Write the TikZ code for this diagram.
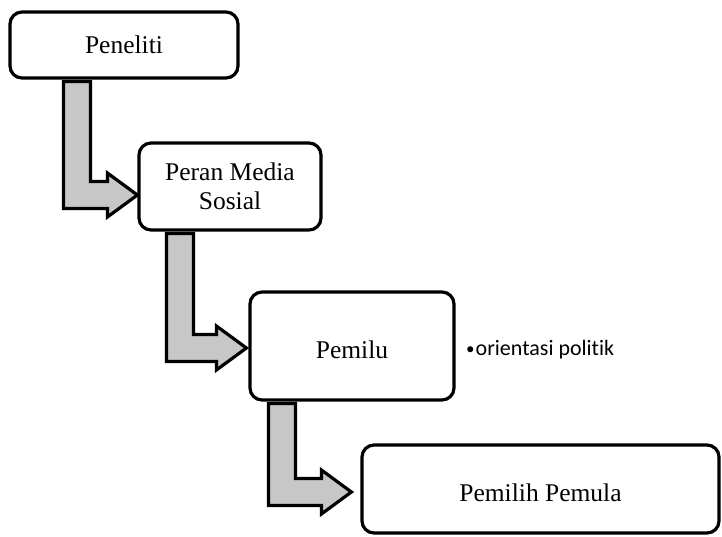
\documentclass[tikz,border=0pt]{standalone}
\usepackage{fontspec}
\setmainfont{Liberation Serif}
\newfontfamily\bulletfont[Ligatures=NoCommon]{Carlito}
\usetikzlibrary{calc}
\tikzset{
  boxnode/.style={draw=black, line width=3.2pt, rounded corners=12pt, fill=white,
    align=center, font=\fontsize{25.5}{29}\selectfont, inner sep=0pt},
  bentarr/.style={draw=black, line width=3.2pt, fill=black!22, line join=miter},
}
\newcommand{\bentarrow}[2]{%
  \draw[bentarr] (#1) -- ($(#1)+(27,0)$) -- ($(#1|-#2)+(27,-13.5)$) -- ($(#2)+(-30,-13.5)$)
    -- ($(#2)+(-30,-22)$) -- (#2) -- ($(#2)+(-30,22)$) -- ($(#2)+(-30,13.5)$)
    -- ($(#1|-#2)+(0,13.5)$) -- cycle;}
\begin{document}
\begin{tikzpicture}[x=1pt,y=-1pt]
\useasboundingbox (0,0) rectangle (722,536);
\node[boxnode, minimum width=228pt, minimum height=66pt] (b1) at (124,45) {Peneliti};
\node[boxnode, minimum width=182pt, minimum height=87pt] (b2) at (230,186.5) {Peran Media\\Sosial};
\node[boxnode, minimum width=204pt, minimum height=108pt] (b3) at (352,346) {\raisebox{-4pt}[\height][\depth]{Pemilu}};
\node[boxnode, minimum width=357pt, minimum height=88pt] (b4) at (540.5,489) {\raisebox{-3.5pt}[\height][\depth]{Pemilih Pemula}};
\node[anchor=west, inner sep=0pt, font=\bulletfont\fontsize{22}{25}\selectfont] (bl) at (466,350) {\raisebox{0.04em}{\fontsize{17}{18}\selectfont•}\kern1pt orientasi politik};
\coordinate (s1) at ([xshift=55pt,yshift=-2pt]b1.south west);
\coordinate (t1) at ([yshift=-8.5pt]b2.west);
\coordinate (s2) at ([xshift=29pt,yshift=-2pt]b2.south west);
\coordinate (t2) at ([xshift=-2pt,yshift=-2pt]b3.west);
\coordinate (s3) at ([xshift=20pt,yshift=-2pt]b3.south west);
\coordinate (t3) at ([xshift=-9pt,yshift=-3pt]b4.west);
\bentarrow{s1}{t1}
\bentarrow{s2}{t2}
\bentarrow{s3}{t3}
\end{tikzpicture}
\end{document}
